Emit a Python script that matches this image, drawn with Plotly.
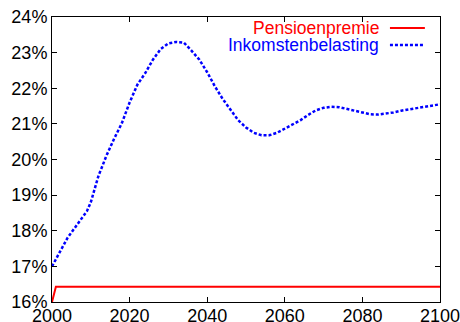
import plotly.graph_objects as go

years_blue = [2000, 2002, 2004, 2006, 2008, 2009, 2010, 2011, 2012, 2013, 2014, 2016, 2018, 2020,
              2022, 2024, 2026, 2028, 2030, 2032, 2034, 2036, 2038, 2040, 2042, 2044, 2046,
              2048, 2050, 2052, 2054, 2056, 2058, 2060, 2062, 2064, 2066, 2068, 2070, 2072,
              2074, 2076, 2078, 2080, 2082, 2084, 2086, 2088, 2090, 2092, 2094, 2096, 2098, 2100]
inkomstenbelasting = [17.0, 17.4, 17.8, 18.1, 18.4, 18.55, 18.8, 19.2, 19.55, 19.82, 20.1, 20.58, 21.02, 21.6,
                      22.1, 22.42, 22.8, 23.1, 23.26, 23.3, 23.28, 23.05, 22.8, 22.45, 22.05, 21.7, 21.4,
                      21.1, 20.9, 20.75, 20.68, 20.68, 20.75, 20.87, 20.98, 21.1, 21.25, 21.38, 21.45, 21.48,
                      21.47, 21.42, 21.35, 21.3, 21.27, 21.26, 21.28, 21.32, 21.37, 21.41, 21.45, 21.49, 21.52, 21.55]
years_red = [2000, 2001, 2100]
pensioenpremie = [16.0, 16.43, 16.43]

x_ticks = [2000, 2020, 2040, 2060, 2080, 2100]
y_ticks = [16, 17, 18, 19, 20, 21, 22, 23, 24]

FONT = "Liberation Sans, Arial, sans-serif"

fig = go.Figure()
fig.add_trace(go.Scatter(x=years_red, y=pensioenpremie, mode="lines", name="Pensioenpremie",
                         line=dict(color="#ff0000", width=2), cliponaxis=False))
fig.add_trace(go.Scatter(x=years_blue, y=inkomstenbelasting, mode="lines", name="Inkomstenbelasting",
                         line=dict(color="#0000ff", width=2.5, dash="3px,2px")))

axis_common = dict(showgrid=False, zeroline=False, showline=True, linecolor="black", linewidth=1,
                   mirror="allticks", ticks="inside", ticklen=5, tickcolor="black", automargin=False,
                   ticklabeloverflow="allow",
                   tickfont=dict(family=FONT, size=18, color="black"))
fig.update_xaxes(range=[2000, 2100], tickvals=x_ticks, ticktext=[str(v) for v in x_ticks],
                 ticklabelstandoff=-3, **axis_common)
fig.update_yaxes(range=[16, 24], tickvals=y_ticks, ticktext=[f"{v}%" for v in y_ticks], **axis_common)

# gnuplot-style legend: text right-aligned, sample line to the right
legend_items = [("Pensioenpremie", "#ff0000", "solid", 0.961), ("Inkomstenbelasting", "#0000ff", "3px,2px", 0.902)]
for name, col, dash, yp in legend_items:
    fig.add_annotation(xref="paper", yref="paper", x=0.845, y=yp, text=name, showarrow=False,
                       xanchor="right", yanchor="middle", borderpad=0,
                       font=dict(family=FONT, size=17.5, color=col))
    fig.add_shape(type="line", xref="paper", yref="paper", x0=0.871, x1=0.961, y0=yp, y1=yp,
                  line=dict(color=col, width=2.5 if dash != "solid" else 2, dash=dash))

fig.update_layout(width=460, height=322, margin=dict(l=52, r=20, t=17, b=20),
                  paper_bgcolor="white", plot_bgcolor="white", showlegend=False,
                  font=dict(family=FONT, size=18, color="black"))
fig.write_html("out.html", config={"displayModeBar": False},
               post_script="document.body.style.margin='0';document.body.style.overflow='hidden';")
